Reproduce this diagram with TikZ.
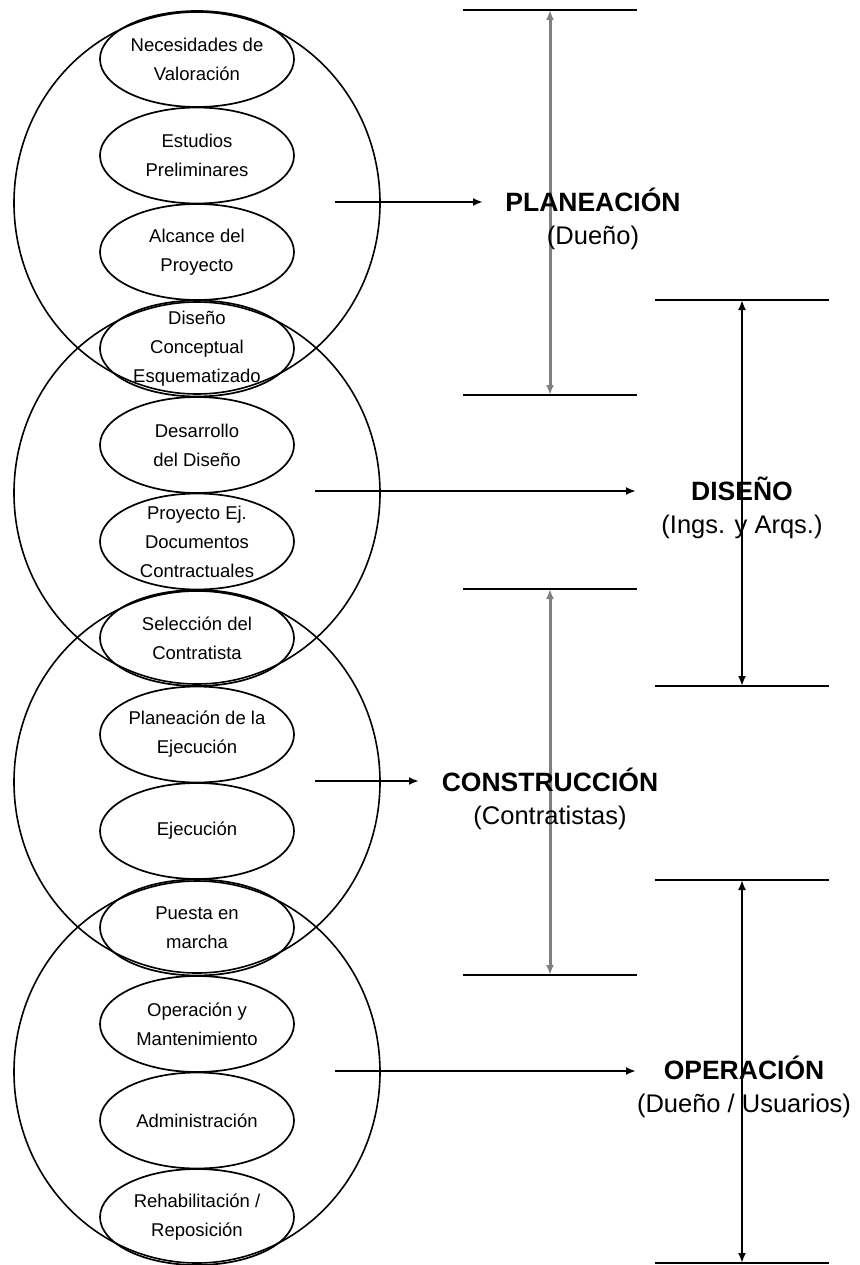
\documentclass[tikz,border=0pt]{standalone}
\usepackage{fontspec}
\setmainfont{Liberation Sans}
\usetikzlibrary{arrows.meta}

\begin{document}
\begin{tikzpicture}[x=1pt, y=-1pt, >={Latex[length=10pt, width=8pt]},
            paso/.style={align=center, inner sep=0pt, font=\fontsize{18.5}{29}\selectfont},
            etapa/.style={align=center, inner sep=0pt, font=\fontsize{25.5}{33}\selectfont},
            circulo/.style={line width=1.6pt},
            ovalo/.style={line width=1.7pt},
            flecha/.style={->, line width=2pt},
            tope/.style={line width=2pt}]
            \useasboundingbox (0,0) rectangle (859,1265);

            \coordinate (c1) at (197,203);
            \coordinate (c2) at (197,493);
            \coordinate (c3) at (197,782);
            \coordinate (c4) at (197,1072);
            \foreach \k in {1,...,4}
                \draw[circulo] (c\k) ellipse [x radius=183pt, y radius=191pt];

            \node[paso] (p1) at (197,59) {Necesidades de\\Valoración};
            \node[paso] (p2) at (197,155.5) {Estudios\\Preliminares};
            \node[paso] (p3) at (197,252) {Alcance del\\Proyecto};
            \node[paso] (p4) at (197,348.5) {Diseño\\Conceptual\\Esquematizado};
            \node[paso] (p5) at (197,445) {Desarrollo\\del Diseño};
            \node[paso] (p6) at (197,541.5) {Proyecto Ej.\\Documentos\\Contractuales};
            \node[paso] (p7) at (197,638) {Selección del\\Contratista};
            \node[paso] (p8) at (197,734.5) {Planeación de la\\Ejecución};
            \node[paso] (p9) at (197,831) {Ejecución};
            \node[paso] (p10) at (197,927.5) {Puesta en\\marcha};
            \node[paso] (p11) at (197,1024) {Operación y\\Mantenimiento};
            \node[paso] (p12) at (197,1120.5) {Administración};
            \node[paso] (p13) at (197,1217) {Rehabilitación /\\Reposición};
            \foreach \i in {1,...,13}
                \draw[ovalo] (p\i.center) ellipse [x radius=97pt, y radius=48pt];

            \foreach \x/\ya/\yb/\n/\col/\w in {550/10/395/1/gray/3, 742/300/686/2/black/2, 550/589/975/3/gray/3, 742/880/1263/4/black/2}{
                \coordinate (sup\n) at (\x,\ya);
                \coordinate (inf\n) at (\x,\yb);
                \draw[tope] ([xshift=-87pt]sup\n) -- ([xshift=87pt]sup\n);
                \draw[tope] ([xshift=-87pt]inf\n) -- ([xshift=87pt]inf\n);
                \draw[<->, line width=\w pt, color=\col] (sup\n) -- (inf\n);
            }

            \node[etapa] (e1) at (593,219) {\textbf{\fontsize{26.5}{33}\selectfont PLANEACIÓN}\\(Dueño)};
            \node[etapa] (e2) at (742,508) {\textbf{\fontsize{26.5}{33}\selectfont DISEÑO}\\(Ings. y Arqs.)};
            \node[etapa] (e3) at (550,799) {\textbf{\fontsize{26.5}{33}\selectfont CONSTRUCCIÓN}\\(Contratistas)};
            \node[etapa] (e4) at (744,1087) {\textbf{\fontsize{26.5}{33}\selectfont OPERACIÓN}\\(Dueño / Usuarios)};

            \coordinate (a1) at (335,202);
            \coordinate (b1) at (483,202);
            \coordinate (a2) at (315,491);
            \coordinate (b2) at (636,491);
            \coordinate (a3) at (315,781);
            \coordinate (b3) at (419,781);
            \coordinate (a4) at (335,1071);
            \coordinate (b4) at (636,1071);
            \foreach \n in {1,...,4}
                \draw[flecha] (a\n) -- (b\n);
        \end{tikzpicture}
\end{document}
